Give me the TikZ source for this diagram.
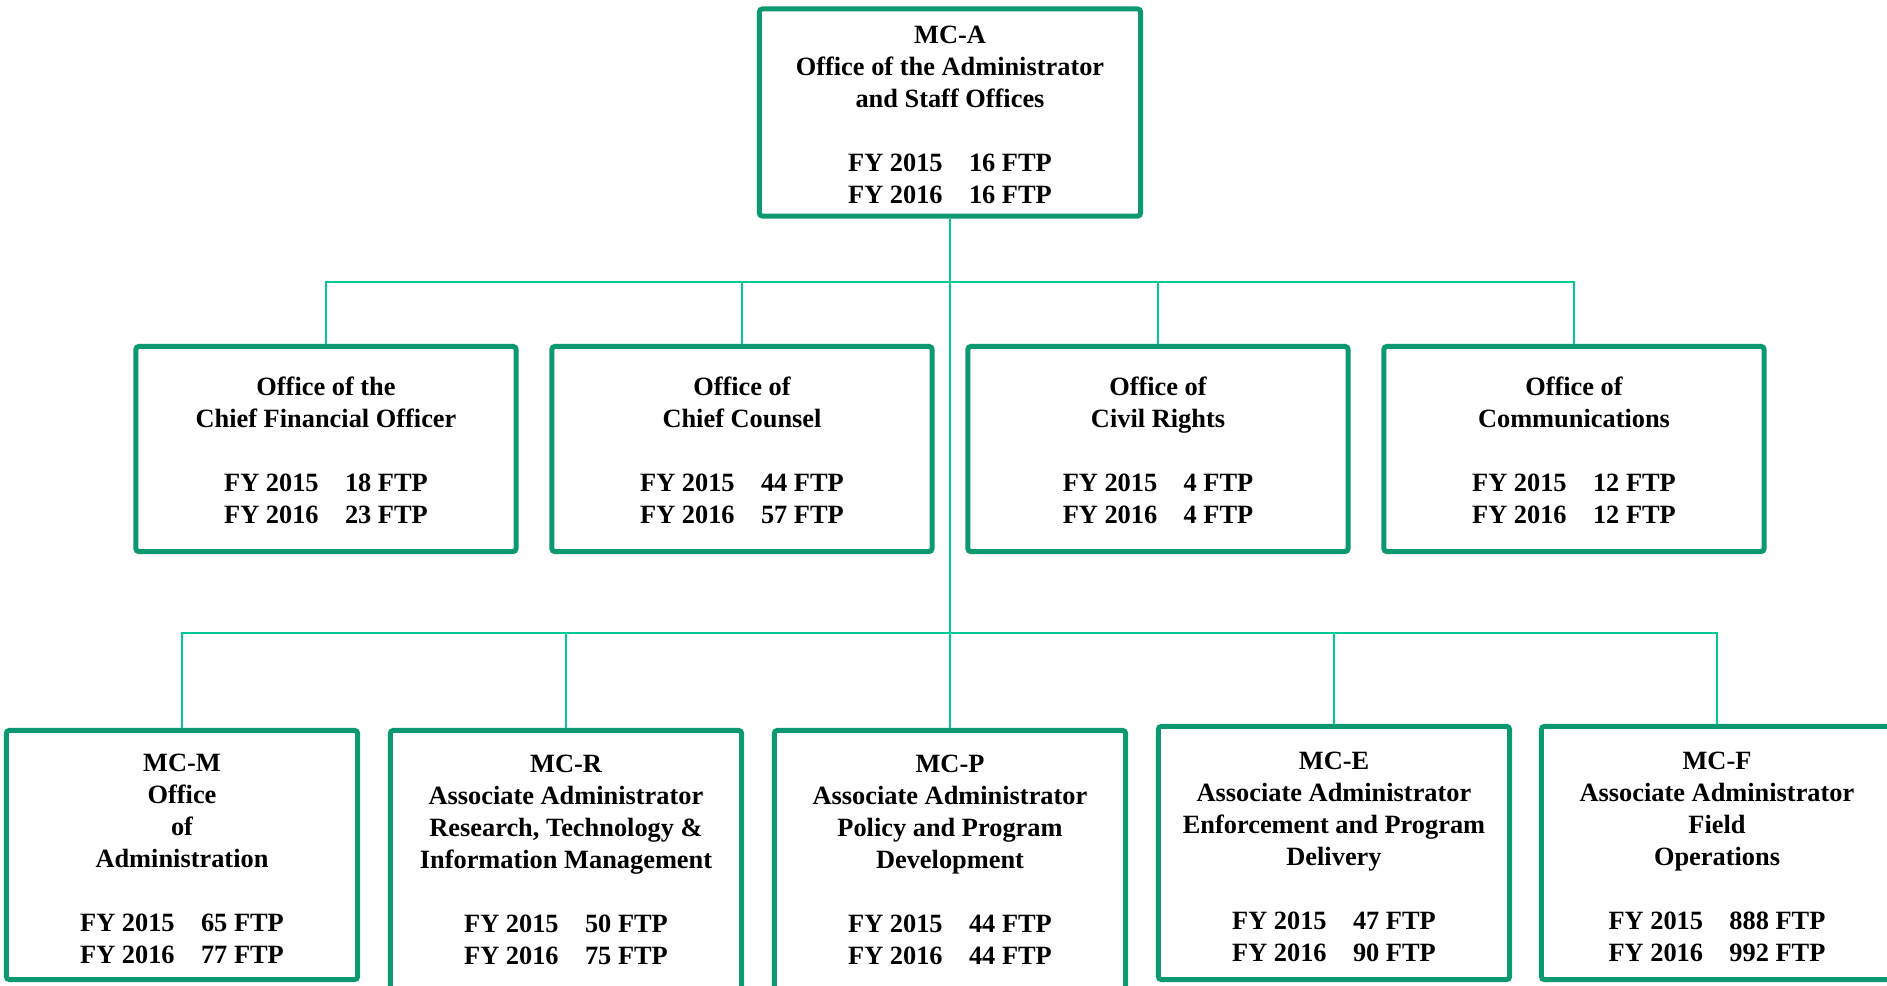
\documentclass[tikz,border=0pt]{standalone}
\usepackage{fontspec}
\setmainfont{Liberation Serif}
\definecolor{boxgreen}{RGB}{12,152,112}
\definecolor{linkgreen}{RGB}{0,200,150}
\tikzstyle{office}=[draw=boxgreen,line width=0.5mm,rounded corners=0.3mm,align=center,inner sep=0pt,font=\fontsize{7.5}{9.1}\selectfont\bfseries]
\tikzstyle{topbox}=[office,minimum width=38.1mm,minimum height=20.7mm]
\tikzstyle{midbox}=[office,minimum width=38mm,minimum height=20.5mm]
\tikzstyle{lowbox}=[office,minimum width=35.1mm]
\tikzstyle{link}=[linkgreen,line width=0.2mm]

\begin{document}
\begin{tikzpicture}[x=0.01cm,y=-0.01cm]
    \useasboundingbox (0,0) rectangle (1887,986);
    % top level
    \node (mca)[topbox] at (950,112.5) {\rule{0pt}{2.25mm}MC-A\\Office of the Administrator\\and Staff Offices\\[3.2mm]FY 2015\quad 16 FTP\\FY 2016\quad 16 FTP};
    % staff offices
    \node (cfo)[midbox] at (326,449) {\rule{0pt}{2.05mm}Office of the\\Chief Financial Officer\\[3.2mm]FY 2015\quad 18 FTP\\FY 2016\quad 23 FTP};
    \node (counsel)[midbox] at (742,449) {\rule{0pt}{2.05mm}Office of\\Chief Counsel\\[3.2mm]FY 2015\quad 44 FTP\\FY 2016\quad 57 FTP};
    \node (civil)[midbox] at (1158,449) {\rule{0pt}{2.05mm}Office of\\Civil Rights\\[3.2mm]FY 2015\quad 4 FTP\\FY 2016\quad 4 FTP};
    \node (comms)[midbox] at (1574,449) {\rule{0pt}{2.05mm}Office of\\Communications\\[3.2mm]FY 2015\quad 12 FTP\\FY 2016\quad 12 FTP};
    % associate administrators
    \node (mcm)[lowbox,minimum height=24.9mm] at (182,855) {\rule{0pt}{2.55mm}MC-M\\Office\\of\\Administration\\[3.2mm]FY 2015\quad 65 FTP\\FY 2016\quad 77 FTP};
    \node (mcr)[lowbox,minimum height=25.9mm] at (566,860) {MC-R\\Associate Administrator\\Research, Technology \&\\Information Management\\[3.2mm]FY 2015\quad 50 FTP\\FY 2016\quad 75 FTP};
    \node (mcp)[lowbox,minimum height=25.9mm] at (950,860) {MC-P\\Associate Administrator\\Policy and Program\\Development\\[3.2mm]FY 2015\quad 44 FTP\\FY 2016\quad 44 FTP};
    \node (mce)[lowbox,minimum height=25.3mm] at (1334,853) {\rule{0pt}{2.55mm}MC-E\\Associate Administrator\\Enforcement and Program\\Delivery\\[3.2mm]FY 2015\quad 47 FTP\\FY 2016\quad 90 FTP};
    \node (mcf)[lowbox,minimum height=25.3mm] at (1717,853) {\rule{0pt}{2.55mm}MC-F\\Associate Administrator\\Field\\Operations\\[3.2mm]FY 2015\quad 888 FTP\\FY 2016\quad 992 FTP};
    % buses
    \coordinate (busa) at (950,282);
    \coordinate (busb) at (950,633);
    \draw[link] (mca) -- (busb);
    \draw[link] (cfo.north) |- (busa);
    \draw[link] (counsel.north) |- (busa);
    \draw[link] (civil.north) |- (busa);
    \draw[link] (comms.north) |- (busa);
    \draw[link] (mcm.north) |- (busb);
    \draw[link] (mcr.north) |- (busb);
    \draw[link] (mcp) -- (busb);
    \draw[link] (mce.north) |- (busb);
    \draw[link] (mcf.north) |- (busb);
\end{tikzpicture}
\end{document}
